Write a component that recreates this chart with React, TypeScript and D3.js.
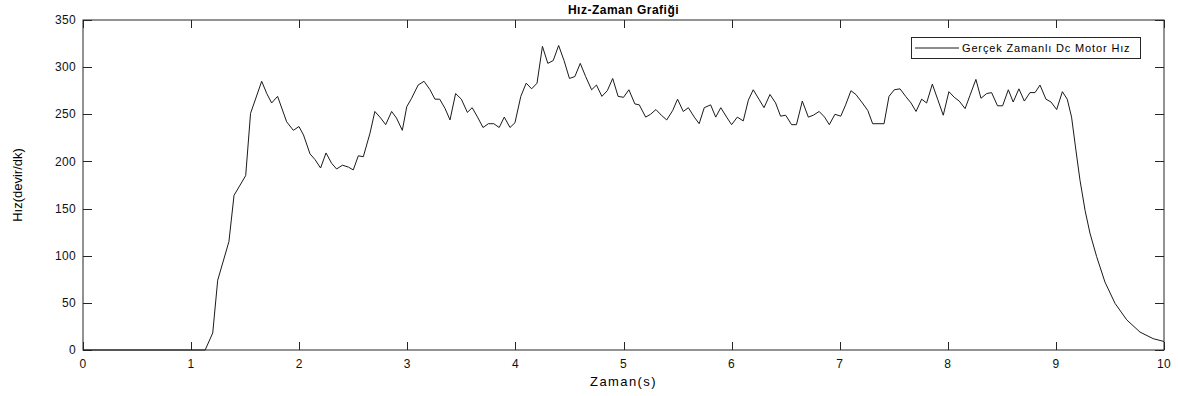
import React, { useEffect, useRef } from 'react'
import * as d3 from 'd3'

const zaman = [
  0, 1.13, 1.2, 1.246, 1.35, 1.397, 1.505, 1.55, 1.653, 1.7,
  1.745, 1.8, 1.884, 1.946, 1.998, 2.04, 2.1, 2.146, 2.198, 2.248,
  2.3, 2.346, 2.4, 2.455, 2.5, 2.547, 2.593, 2.655, 2.7, 2.754,
  2.8, 2.855, 2.9, 2.954, 2.995, 3.04, 3.1, 3.155, 3.21, 3.256,
  3.3, 3.35, 3.395, 3.447, 3.5, 3.556, 3.6, 3.65, 3.7, 3.75,
  3.8, 3.85, 3.897, 3.95, 3.996, 4.05, 4.1, 4.15, 4.2, 4.25,
  4.3, 4.35, 4.4, 4.45, 4.5, 4.55, 4.6, 4.65, 4.705, 4.75,
  4.8, 4.85, 4.9, 4.95, 5.0, 5.05, 5.105, 5.146, 5.205, 5.25,
  5.3, 5.35, 5.4, 5.455, 5.5, 5.553, 5.6, 5.655, 5.7, 5.747,
  5.806, 5.853, 5.9, 5.954, 6.0, 6.053, 6.108, 6.155, 6.2, 6.253,
  6.3, 6.355, 6.407, 6.453, 6.5, 6.555, 6.6, 6.654, 6.71, 6.756,
  6.81, 6.86, 6.904, 6.956, 7.01, 7.055, 7.104, 7.15, 7.21, 7.26,
  7.305, 7.41, 7.456, 7.505, 7.558, 7.61, 7.66, 7.706, 7.758, 7.804,
  7.857, 7.906, 7.958, 8.01, 8.06, 8.106, 8.16, 8.205, 8.26, 8.307,
  8.36, 8.405, 8.46, 8.507, 8.56, 8.605, 8.658, 8.708, 8.76, 8.807,
  8.853, 8.908, 8.955, 9.007, 9.06, 9.105, 9.145, 9.185, 9.223, 9.27,
  9.315, 9.377, 9.454, 9.547, 9.655, 9.778, 9.9, 10.0,
]

const hiz = [
  0, 0, 18, 74, 115, 164, 185, 251, 285, 272,
  262, 269, 242, 233, 237, 228, 208, 202, 193, 209,
  198, 192, 196, 194, 191, 206, 205, 230, 253, 246,
  239, 253, 246, 233, 258, 267, 281, 285, 276, 266,
  266, 256, 244, 272, 266, 252, 257, 247, 236, 240,
  240, 236, 247, 236, 241, 269, 283, 277, 283, 322,
  304, 307, 323, 307, 288, 290, 304, 290, 276, 281,
  269, 275, 288, 269, 268, 276, 261, 260, 247, 250,
  255, 249, 244, 254, 266, 253, 257, 247, 240, 257,
  260, 247, 257, 247, 239, 247, 243, 265, 276, 266,
  257, 271, 262, 248, 249, 239, 239, 264, 247, 249,
  253, 247, 239, 250, 248, 260, 275, 271, 262, 254,
  240, 240, 269, 276, 277, 269, 262, 253, 266, 262,
  282, 266, 249, 274, 268, 264, 256, 270, 287, 267,
  272, 273, 259, 259, 276, 263, 277, 264, 273, 273,
  281, 266, 263, 255, 274, 266, 247, 212, 180, 148,
  124, 99, 72, 49.5, 32, 19, 12, 9,
]

const xTicks = [0, 1, 2, 3, 4, 5, 6, 7, 8, 9, 10]
const yTicks = [0, 50, 100, 150, 200, 250, 300, 350]

const W = 1178
const H = 396
const FONT = '"Liberation Sans", Arial, sans-serif'

export default function App() {
  const svgRef = useRef<SVGSVGElement>(null)

  useEffect(() => {
    if (!svgRef.current) return
    const svg = d3.select(svgRef.current)
    svg.selectAll('*').remove()

    const left = 83, right = 1164, top = 20, bottom = 350
    const x = d3.scaleLinear().domain([0, 10]).range([left, right])
    const y = d3.scaleLinear().domain([0, 350]).range([bottom, top])

    svg.append('rect').attr('width', W).attr('height', H).attr('fill', '#fff')

    const axisColor = '#262626'

    // axes box
    svg.append('rect')
      .attr('x', left).attr('y', top)
      .attr('width', right - left).attr('height', bottom - top)
      .attr('fill', 'none').attr('stroke', axisColor).attr('stroke-width', 1)

    // inward ticks on all four sides
    const xt = 8, yt = 9
    xTicks.forEach(t => {
      const px = Math.round(x(t)) + 0.5
      svg.append('line').attr('x1', px).attr('x2', px).attr('y1', bottom).attr('y2', bottom - xt).attr('stroke', axisColor)
      svg.append('line').attr('x1', px).attr('x2', px).attr('y1', top).attr('y2', top + xt).attr('stroke', axisColor)
      svg.append('text')
        .attr('x', x(t)).attr('y', bottom + 14)
        .attr('text-anchor', 'middle').attr('dy', '0.35em')
        .style('font-family', FONT).style('font-size', '12px').style('letter-spacing', '0.3px').attr('fill', '#111')
        .text(t)
    })
    yTicks.forEach(t => {
      const py = Math.round(y(t)) + 0.5
      svg.append('line').attr('x1', left).attr('x2', left + yt).attr('y1', py).attr('y2', py).attr('stroke', axisColor)
      svg.append('line').attr('x1', right).attr('x2', right - yt).attr('y1', py).attr('y2', py).attr('stroke', axisColor)
      svg.append('text')
        .attr('x', left - 7).attr('y', y(t))
        .attr('text-anchor', 'end').attr('dy', '0.35em')
        .style('font-family', FONT).style('font-size', '12px').style('letter-spacing', '0.3px').attr('fill', '#111')
        .text(t)
    })

    // data line
    const pts = zaman.map((t, i) => [t, hiz[i]] as [number, number])
    const line = d3.line<[number, number]>().x(d => x(d[0])).y(d => y(d[1]))
    svg.append('path')
      .datum(pts)
      .attr('fill', 'none')
      .attr('stroke', '#1a1a1a')
      .attr('stroke-width', 1)
      .attr('stroke-linejoin', 'round')
      .attr('d', line)

    // title & labels
    svg.append('text')
      .attr('x', (left + right) / 2).attr('y', 14)
      .attr('text-anchor', 'middle')
      .style('font-family', FONT).style('font-size', '12px').style('font-weight', 'bold')
      .style('letter-spacing', '0.5px').attr('fill', '#000')
      .text('Hız-Zaman Grafiği')

    svg.append('text')
      .attr('x', (left + right) / 2).attr('y', 386)
      .attr('text-anchor', 'middle')
      .style('font-family', FONT).style('font-size', '13px').style('letter-spacing', '1.4px').attr('fill', '#000')
      .text('Zaman(s)')

    svg.append('text')
      .attr('transform', `translate(22,${(top + bottom) / 2}) rotate(-90)`)
      .attr('text-anchor', 'middle')
      .style('font-family', FONT).style('font-size', '13px').attr('fill', '#000')
      .text('Hız(devir/dk)')

    // legend
    const lg = svg.append('g')
    lg.append('rect')
      .attr('x', 911.5).attr('y', 37.5).attr('width', 229).attr('height', 21)
      .attr('fill', '#fff').attr('stroke', axisColor)
    lg.append('line')
      .attr('x1', 915).attr('x2', 959).attr('y1', 48).attr('y2', 48)
      .attr('stroke', '#1a1a1a')
    lg.append('text')
      .attr('x', 962).attr('y', 48).attr('dy', '0.35em')
      .style('font-family', FONT).style('font-size', '11px').style('letter-spacing', '0.85px').attr('fill', '#000')
      .text('Gerçek Zamanlı Dc Motor Hız')
  }, [])

  return (
    <svg
      ref={svgRef}
      width={W}
      height={H}
      style={{ position: 'absolute', left: 0, top: 0, display: 'block' }}
    />
  )
}
